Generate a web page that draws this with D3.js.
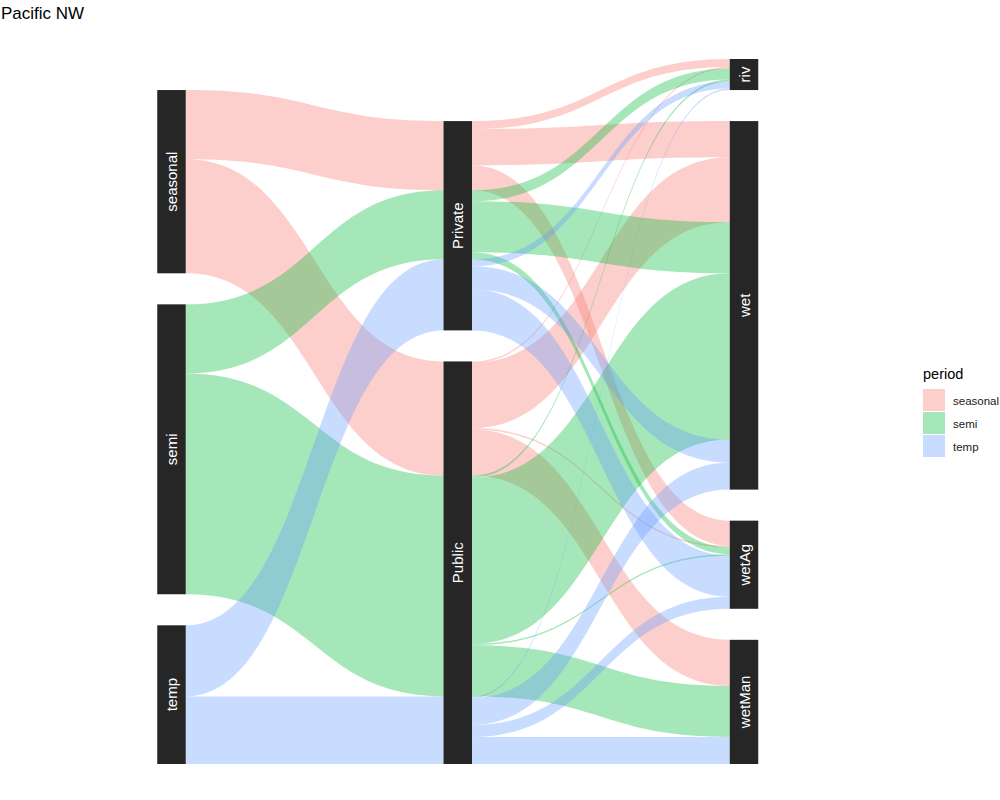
<!DOCTYPE html>
<html>
<head>
<meta charset="utf-8">
<script src="https://cdn.jsdelivr.net/npm/d3@7"></script>
<style>
  body { margin: 0; background: #fff; }
  svg { display: block; font-family: "Liberation Sans", Arial, Helvetica, sans-serif; }
</style>
</head>
<body>
<svg id="chart" width="1000" height="800"></svg>
<script>
// ---- data ----
const periods = ["seasonal", "semi", "temp"];
const owners = ["Private", "Public"];
const wetlands = ["riv", "wet", "wetAg", "wetMan"];
// values per wetland type (riv, wet, wetAg, wetMan)
const seasonalPrivate = [8, 36, 25, 0];
const seasonalPublic  = [1.5, 65, 1.5, 46];
const semiPrivate     = [11, 51, 7, 0];
const semiPublic      = [2, 166, 1.5, 51];
const tempPrivate     = [7, 23, 41, 0];
const tempPublic      = [1.5, 27, 12, 27];
const periodColors = ["#F8766D", "#00BA38", "#619CFF"];
const titleText = "Pacific NW";
const legendTitle = "period";

const table = {
  seasonal: { Private: seasonalPrivate, Public: seasonalPublic },
  semi:     { Private: semiPrivate,     Public: semiPublic },
  temp:     { Private: tempPrivate,     Public: tempPublic }
};

// ---- layout ----
const svg = d3.select("#chart");
const gap = 31;
const boxW = 28.5;
const alpha = 0.35;

const rows = [];
periods.forEach((p, pi) => owners.forEach((o, oi) => wetlands.forEach((w, wi) => {
  const v = table[p][o][wi];
  rows.push({ p, o, w, pi, oi, wi, v });
})));
const total = d3.sum(rows, d => d.v);

const x = d3.scalePoint().domain([0, 1, 2]).range([171.5, 744]);
const y = d3.scaleLinear().domain([0, total + 3 * gap]).range([764, 59]);
const color = d3.scaleOrdinal().domain(periods).range(periodColors);

// strata
const axes = [
  { cats: periods, key: "p" },
  { cats: owners, key: "o" },
  { cats: wetlands, key: "w" }
];
const strata = [];
axes.forEach((ax, ai) => {
  const n = ax.cats.length;
  let top = total + (n - 1) * gap;
  ax.pos = {};
  ax.cats.forEach(c => {
    const v = d3.sum(rows.filter(r => r[ax.key] === c), r => r.v);
    ax.pos[c] = { top, v };
    strata.push({ ai, name: c, top, bot: top - v });
    top -= v + gap;
  });
});

// flows 1 -> 2 (aggregate over wetlands)
const flows12 = [];
periods.forEach((p, pi) => owners.forEach((o, oi) => {
  const v = d3.sum(rows.filter(r => r.p === p && r.o === o), r => r.v);
  if (v > 0) flows12.push({ p, o, pi, oi, v });
}));
const flows23 = rows.filter(r => r.v > 0).map(r => Object.assign({}, r));

function assign(flows, ax, key, sorter, field) {
  ax.cats.forEach(c => {
    let cur = ax.pos[c].top;
    flows.filter(f => f[key] === c).sort(sorter).forEach(f => {
      f[field] = [cur, cur - f.v];
      cur -= f.v;
    });
  });
}
// axis1 side: order by owner; axis2 side: order by period
assign(flows12, axes[0], "p", (a, b) => a.oi - b.oi, "s");
assign(flows12, axes[1], "o", (a, b) => a.pi - b.pi, "t");
// axis2 side: by period then wetland; axis3 side: by period then owner
assign(flows23, axes[1], "o", (a, b) => a.pi - b.pi || a.wi - b.wi, "s");
assign(flows23, axes[2], "w", (a, b) => a.pi - b.pi || a.oi - b.oi, "t");

function ribbon(x0, x1, s, t) {
  const xm = (x0 + x1) / 2;
  const p = d3.path();
  p.moveTo(x0, y(s[0]));
  p.bezierCurveTo(xm, y(s[0]), xm, y(t[0]), x1, y(t[0]));
  p.lineTo(x1, y(t[1]));
  p.bezierCurveTo(xm, y(t[1]), xm, y(s[1]), x0, y(s[1]));
  p.closePath();
  return p.toString();
}

const gFlows = svg.append("g");
gFlows.selectAll("path.f12").data(flows12).join("path")
  .attr("class", "f12")
  .attr("d", f => ribbon(x(0) + boxW / 2, x(1) - boxW / 2, f.s, f.t))
  .attr("fill", f => color(f.p)).attr("fill-opacity", alpha);
gFlows.selectAll("path.f23").data(flows23).join("path")
  .attr("class", "f23")
  .attr("d", f => ribbon(x(1) + boxW / 2, x(2) - boxW / 2, f.s, f.t))
  .attr("fill", f => color(f.p)).attr("fill-opacity", alpha);

// strata boxes
const gS = svg.append("g");
gS.selectAll("rect").data(strata).join("rect")
  .attr("x", d => x(d.ai) - boxW / 2)
  .attr("y", d => y(d.top))
  .attr("width", boxW)
  .attr("height", d => y(d.bot) - y(d.top))
  .attr("fill", "#262626");
gS.selectAll("text").data(strata).join("text")
  .attr("transform", d => `translate(${x(d.ai)},${(y(d.top) + y(d.bot)) / 2}) rotate(-90)`)
  .attr("text-anchor", "middle")
  .attr("dominant-baseline", "central")
  .attr("fill", "#ffffff")
  .attr("font-size", 15)
  .text(d => d.name);

// title
svg.append("text").attr("x", 1).attr("y", 19)
  .attr("font-size", 17).attr("fill", "#000").text(titleText);

// legend
const lg = svg.append("g").attr("transform", "translate(923,0)");
lg.append("text").attr("x", 0).attr("y", 379).attr("font-size", 14.5).attr("fill", "#000").text(legendTitle);
const keyH = 23;
periods.forEach((p, i) => {
  lg.append("rect").attr("x", 0).attr("y", 389 + i * keyH).attr("width", 22).attr("height", keyH - 1)
    .attr("fill", color(p)).attr("fill-opacity", alpha);
  lg.append("text").attr("x", 30).attr("y", 389 + i * keyH + keyH / 2)
    .attr("dominant-baseline", "central").attr("font-size", 11.5).attr("fill", "#1a1a1a").text(p);
});
</script>
</body>
</html>
